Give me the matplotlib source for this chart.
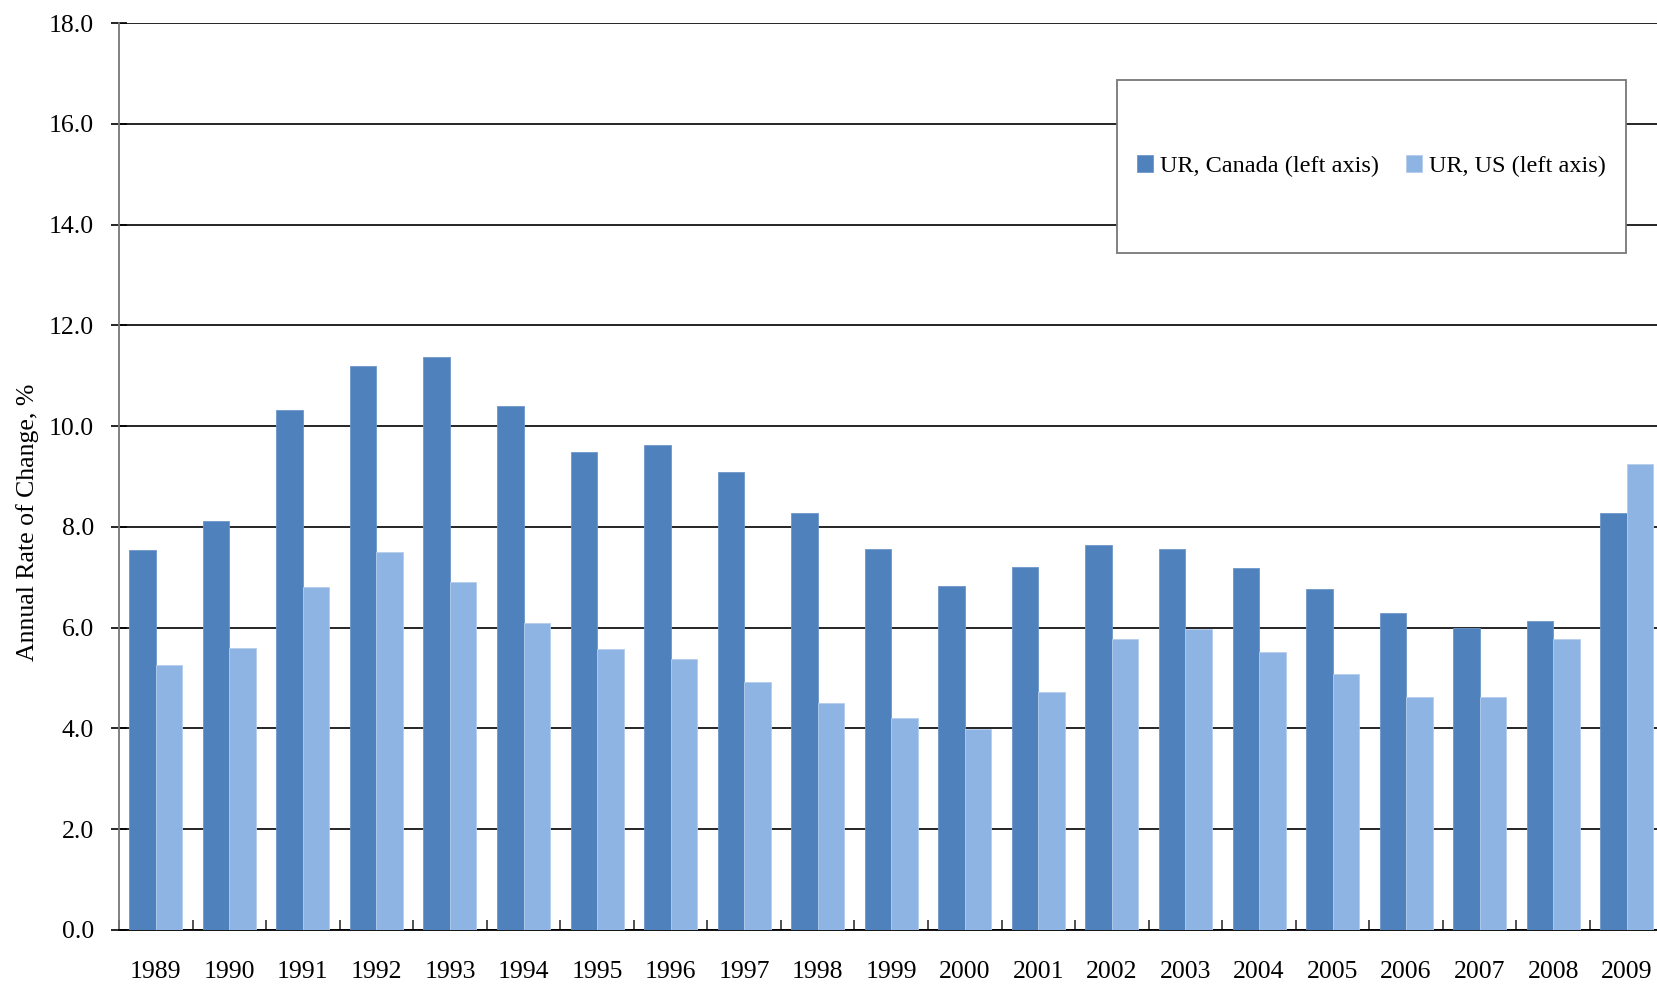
import matplotlib
matplotlib.use("Agg")
import matplotlib.pyplot as plt
from matplotlib.patches import Rectangle
from matplotlib.ticker import FixedLocator
import numpy as np

years = ["1989", "1990", "1991", "1992", "1993", "1994", "1995", "1996", "1997", "1998",
         "1999", "2000", "2001", "2002", "2003", "2004", "2005", "2006", "2007", "2008", "2009"]
ur_canada = [7.54, 8.12, 10.31, 11.19, 11.37, 10.39, 9.48, 9.63, 9.08, 8.27,
             7.57, 6.82, 7.20, 7.64, 7.57, 7.18, 6.76, 6.29, 6.00, 6.13, 8.27]
ur_us = [5.26, 5.59, 6.81, 7.50, 6.91, 6.09, 5.58, 5.37, 4.93, 4.51,
         4.20, 3.99, 4.72, 5.77, 5.98, 5.51, 5.08, 4.62, 4.62, 5.77, 9.25]
series_labels = ["UR, Canada (left axis)", "UR, US (left axis)"]
yticks = [0, 2, 4, 6, 8, 10, 12, 14, 16, 18]

plt.rcParams['font.family'] = ['Liberation Serif', 'DejaVu Serif']

W, H = 1657, 985
fig = plt.figure(figsize=(W / 100, H / 100), dpi=100)
left_px, right_px, top_px, bot_px = 119, 119 + 21 * 73.55, 23, 930
ax = fig.add_axes([left_px / W, 1 - bot_px / H, (right_px - left_px) / W, (bot_px - top_px) / H])
aw = right_px - left_px
ah = bot_px - top_px

x = np.arange(len(years))
bw = 0.36
c_can = "#4F81BD"
c_us = "#8EB4E3"
ax.bar(x - bw / 2, ur_canada, bw, color=c_can, edgecolor="#6F97CB", linewidth=0.6,
       label=series_labels[0], zorder=3)
ax.bar(x + bw / 2, ur_us, bw, color=c_us, edgecolor="#B5CDEC", linewidth=0.6,
       label=series_labels[1], zorder=3)

ax.set_xlim(-0.5, len(years) - 0.5)
ax.set_ylim(0, 18)
ax.set_yticks(yticks)
ax.set_yticklabels([f"{v:.1f}" for v in yticks])
ax.yaxis.grid(True, color="black", linewidth=1.2)
ax.set_axisbelow(True)

ax.set_xticks(x)
ax.set_xticklabels(years)
ax.xaxis.set_minor_locator(FixedLocator(np.arange(-0.5, len(years), 1.0)))
ax.tick_params(axis="x", which="major", length=0, pad=22, labelsize=18.5)
ax.tick_params(axis="x", which="minor", direction="in", length=7, width=1.2, color="#333333")
ax.tick_params(axis="y", which="major", direction="inout", length=12, width=1.2,
               labelsize=18.5, pad=12)

for s in ["top", "right"]:
    ax.spines[s].set_visible(False)
ax.spines["left"].set_color("#777777")
ax.spines["left"].set_linewidth(1.3)
ax.spines["bottom"].set_color("black")
ax.spines["bottom"].set_linewidth(1.3)

ax.set_ylabel("Annual Rate of Change, %", fontsize=18.5)
ax.yaxis.set_label_coords((39 - left_px) / aw, (bot_px - 522) / ah)

# legend box
lx0 = (1117 - left_px) / aw
lx1 = (1626 - left_px) / aw
ly0 = (bot_px - 252.5) / ah
ly1 = (bot_px - 80) / ah
rect = Rectangle((lx0, ly0), lx1 - lx0, ly1 - ly0, transform=ax.transAxes,
                 facecolor="white", edgecolor="#777777", linewidth=1.3, zorder=5)
ax.add_patch(rect)
leg = ax.legend(loc="center", bbox_to_anchor=((lx0 + lx1) / 2, (ly0 + ly1) / 2),
                ncol=2, frameon=False, fontsize=17.5, handlelength=0.65, handleheight=0.65,
                handletextpad=0.3, columnspacing=1.1)
leg.set_zorder(6)

fig.savefig("out.png", dpi=100)
